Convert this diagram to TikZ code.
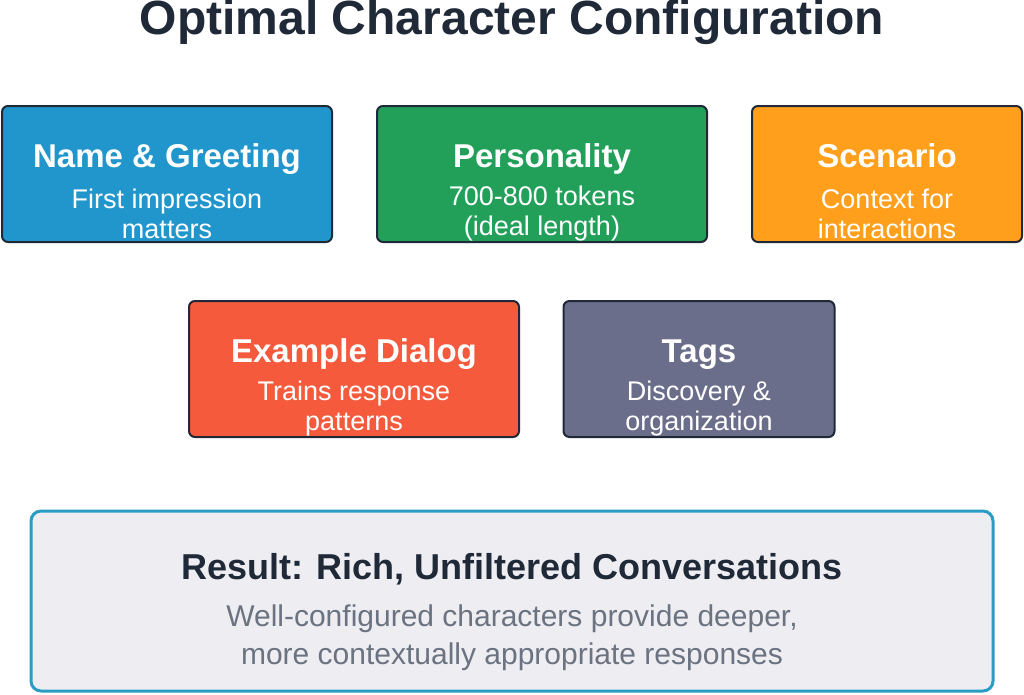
\documentclass[tikz,border=0pt]{standalone}
\usepackage{fontspec}
\setmainfont{Liberation Sans}
\usetikzlibrary{positioning}
\definecolor{cblue}{HTML}{2196CC}
\definecolor{cgreen}{HTML}{22A05A}
\definecolor{corange}{HTML}{FF9F1C}
\definecolor{cred}{HTML}{F55A3C}
\definecolor{cslate}{HTML}{6B6E8A}
\definecolor{cdark}{HTML}{1F2937}
\definecolor{cresfill}{HTML}{EEEEF2}
\definecolor{cresline}{HTML}{2A9DC4}
\definecolor{cgrey}{HTML}{6B7280}
\tikzset{
  card/.style={draw=cdark, line width=2pt, rounded corners=6pt, minimum width=330pt, minimum height=136pt},
  head/.style={text=white, anchor=base, font=\bfseries\fontsize{33}{36}\selectfont},
  sub/.style={text=white, font=\fontsize{27}{30}\selectfont, align=center}
}
\begin{document}
\begin{tikzpicture}[x=1pt,y=-1pt]
   \useasboundingbox (0,0) rectangle (1024,694);
   \node[text=cdark, font=\bfseries\fontsize{48}{52}\selectfont] (title) at (512,22) {Optimal Character Configuration};
   % top row
   \node[card, fill=cblue] (name) at (167,174) {};
   \node[card, fill=cgreen] (pers) at (542,174) {};
   \node[card, fill=corange, minimum width=270pt] (scen) at (887,174) {};
   \node[head] (name_h) at (167,167) {Name \& Greeting};
   \node[sub] (name_s) at (167,214) {First impression\\matters};
   \node[head] (pers_h) at (542,167) {Personality};
   \node[sub] (pers_s) at (542,214) {700-800 tokens\\(ideal length)};
   \node[head] (scen_h) at (887,167) {Scenario};
   \node[sub] (scen_s) at (887,214) {Context for\\interactions};
   % second row
   \node[card, fill=cred] (dial) at (354,369) {};
   \node[card, fill=cslate, minimum width=271pt] (tags) at (699,369) {};
   \node[head] (dial_h) at (354,362) {Example Dialog};
   \node[sub] (dial_s) at (354,409) {Trains response\\patterns};
   \node[head] (tags_h) at (699,362) {Tags};
   \node[sub] (tags_s) at (699,409) {Discovery \&\\organization};
   % result
   \node[draw=cresline, fill=cresfill, line width=3pt, rounded corners=10pt, minimum width=962pt, minimum height=180pt] (res) at (512,601) {};
   \node[text=cdark, font=\bfseries\fontsize{36}{40}\selectfont] (res_h) at (512,569) {Result: Rich, Unfiltered Conversations};
   \node[text=cgrey, font=\fontsize{30}{38}\selectfont, align=center] (res_s) at (512,638) {Well-configured characters provide deeper,\\more contextually appropriate responses};
\end{tikzpicture}
\end{document}
